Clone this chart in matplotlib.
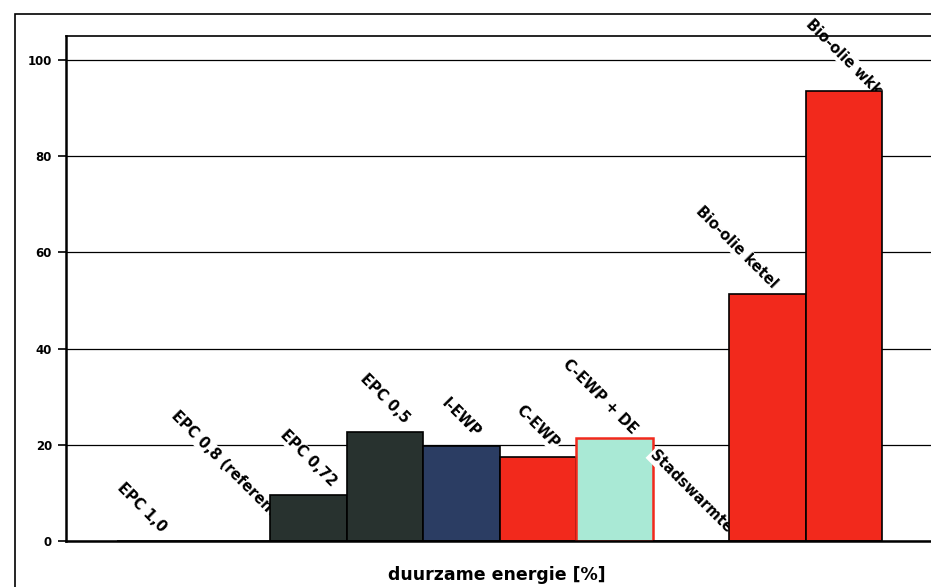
import matplotlib
matplotlib.use("Agg")
import matplotlib.pyplot as plt
from matplotlib.patches import Rectangle

# --- data ---
labels = ["EPC 1,0", "EPC 0,8 (referentie)", "EPC 0,72", "EPC 0,5", "I-EWP",
          "C-EWP", "C-EWP + DE", "Stadswarmte", "Bio-olie ketel", "Bio-olie wkk"]
values = [0, 0, 9.6, 22.7, 19.8, 17.5, 21.4, 0, 51.4, 93.6]
yticks = [0, 20, 40, 60, 80, 100]

# --- colours per bar ---
DARK = "#28322f"
NAVY = "#2b3d63"
RED = "#f2291c"
MINT = "#a9e9d5"
fills = [DARK, DARK, DARK, DARK, NAVY, RED, MINT, RED, RED, RED]
edges = ["black"] * 6 + [RED] + ["black"] * 3
widths = [1.2] * 6 + [1.8] + [1.2] * 3

# label shifts (points) where the centred spot gets crowded
nudge = {"EPC 1,0": (-10, 0), "C-EWP + DE": (-10, -3),
         "Bio-olie ketel": (-22, -2), "Bio-olie wkk": (0, -9)}

fig = plt.figure(figsize=(9.31, 5.87), dpi=100)
ax = fig.add_axes([66 / 931, 46 / 587, 1 - 66 / 931, 505 / 587])

# label sits just under its own bar but over the bars before it
for i, (lab, v) in enumerate(zip(labels, values)):
    ax.bar(i, v, width=1.0, color=fills[i], edgecolor=edges[i],
           linewidth=widths[i], zorder=3 + 2 * i)
    dx, dy = nudge.get(lab, (0, 0))
    ax.annotate(lab, (i, v), xytext=(dx, 4 + dy), textcoords="offset points",
                rotation=-45, ha="center", va="bottom", fontsize=10.5,
                fontweight="bold", zorder=2 + 2 * i, annotation_clip=False,
                bbox=dict(fc="white", ec="none", pad=0.6))

ax.set_xlim(-1.17, 10.14)
ax.set_ylim(0, 105)
ax.set_xticks([])
ax.set_yticks(yticks)
ax.set_yticklabels([str(t) for t in yticks], fontsize=8.5, fontweight="bold")
ax.tick_params(axis="y", direction="out", length=6, width=1.2, pad=4)
ax.yaxis.grid(True, color="black", linewidth=0.9)
ax.set_axisbelow(True)

ax.spines["right"].set_visible(False)
ax.spines["left"].set_linewidth(1.8)
ax.spines["bottom"].set_linewidth(1.8)
ax.spines["top"].set_linewidth(1.2)
for s in ax.spines.values():
    s.set_zorder(30)

fig.text(497 / 931, 1 - 575 / 587, "duurzame energie [%]", ha="center",
         va="center", fontsize=12.5, fontweight="bold")

# outer chart border
fig.add_artist(Rectangle((15 / 931, -0.1), 1.0, 1.1 - 14 / 587,
                         transform=fig.transFigure, fill=False,
                         edgecolor="black", linewidth=1.2))

fig.savefig("out.png", dpi=100)
